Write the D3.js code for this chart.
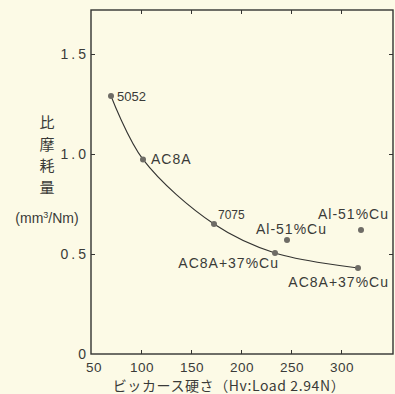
<!DOCTYPE html>
<html>
<head>
<meta charset="utf-8">
<script src="https://cdn.jsdelivr.net/npm/d3@7"></script>
<style>
  html, body { margin: 0; padding: 0; background: #fcfae6; }
  svg { display: block; }
  text { fill: #3a3a38; }
</style>
</head>
<body>
<div id="chart"></div>
<script>
// materials, hardness (Hv) and specific wear rate (mm3/Nm)
const materials = ['5052', 'AC8A', '7075', 'Al-51%Cu', 'AC8A+37%Cu', 'Al-51%Cu', 'AC8A+37%Cu'];
const hardness = [70, 102, 173, 246, 234, 320, 317];
const wearRate = [1.29, 0.973, 0.65, 0.57, 0.505, 0.62, 0.43];
// points the fitted curve runs through (indexes into the arrays above)
const curveIdx = [0, 1, 2, 4, 6];
const xTicks = [50, 100, 150, 200, 250, 300];
const yTicks = [0, 0.5, 1.0, 1.5];
const yTickLabels = ['0', '0.5', '1.0', '1.5'];
const yTitleChars = ['比', '摩', '耗', '量'];

const W = 395, H = 394;
const margin = { top: 10, right: 2, bottom: 40, left: 91 };

const svg = d3.select('#chart').append('svg')
  .attr('width', W)
  .attr('height', H);

svg.append('rect').attr('width', W).attr('height', H).attr('fill', '#fcfae6');

const x = d3.scaleLinear().domain([50, 352]).range([margin.left, W - margin.right]);
const y = d3.scaleLinear().domain([0, 1.72]).range([H - margin.bottom, margin.top]);

const ink = '#333331';
const font = '"Liberation Sans", "Noto Sans CJK JP", sans-serif';

// frame
svg.append('rect')
  .attr('x', x(50)).attr('y', y(1.72))
  .attr('width', x(352) - x(50)).attr('height', y(0) - y(1.72))
  .attr('fill', 'none').attr('stroke', ink).attr('stroke-width', 1.4);

// inward ticks on all four sides
const tickLen = 4;
svg.append('g')
  .attr('transform', `translate(0,${y(0)})`)
  .call(d3.axisBottom(x).tickValues(xTicks.slice(1)).tickSize(-tickLen).tickFormat(''))
  .call(g => g.select('.domain').remove())
  .selectAll('line').attr('stroke', ink);
svg.append('g')
  .attr('transform', `translate(0,${y(1.72)})`)
  .call(d3.axisTop(x).tickValues(xTicks.slice(1)).tickSize(-tickLen).tickFormat(''))
  .call(g => g.select('.domain').remove())
  .selectAll('line').attr('stroke', ink);
svg.append('g')
  .attr('transform', `translate(${x(50)},0)`)
  .call(d3.axisLeft(y).tickValues(yTicks.slice(1)).tickSize(-tickLen).tickFormat(''))
  .call(g => g.select('.domain').remove())
  .selectAll('line').attr('stroke', ink);
svg.append('g')
  .attr('transform', `translate(${x(352)},0)`)
  .call(d3.axisRight(y).tickValues(yTicks.slice(1)).tickSize(-tickLen).tickFormat(''))
  .call(g => g.select('.domain').remove())
  .selectAll('line').attr('stroke', ink);

// x tick labels
svg.append('g').selectAll('text')
  .data(xTicks)
  .enter().append('text')
  .attr('x', (d, i) => x(d) + (i === 0 ? 3 : 1))
  .attr('y', y(0) + 18)
  .attr('text-anchor', 'middle')
  .style('font-family', font)
  .style('font-size', '13.5px')
  .style('letter-spacing', '0.5px')
  .text(d => d);

// y tick labels
svg.append('g').selectAll('text')
  .data(yTicks)
  .enter().append('text')
  .attr('x', x(50) - 2)
  .attr('y', d => y(d) + 5)
  .attr('text-anchor', 'end')
  .style('font-family', font)
  .style('font-size', '14px')
  .style('letter-spacing', '3px')
  .text((d, i) => yTickLabels[i]);

// fitted curve
const line = d3.line()
  .x(i => x(hardness[i]))
  .y(i => y(wearRate[i]))
  .curve(d3.curveCatmullRom.alpha(0.5));

svg.append('path')
  .datum(curveIdx)
  .attr('d', line)
  .attr('fill', 'none')
  .attr('stroke', ink)
  .attr('stroke-width', 1.1);

// points
svg.append('g').selectAll('circle')
  .data(hardness)
  .enter().append('circle')
  .attr('cx', d => x(d))
  .attr('cy', (d, i) => y(wearRate[i]))
  .attr('r', 3)
  .attr('fill', '#6e6c66');

// point labels: offset, anchor, size per point
const labelPos = [
  { dx: 6, dy: 5, anchor: 'start', size: 13 },
  { dx: 8, dy: 5, anchor: 'start', size: 14 },
  { dx: 4, dy: -5, anchor: 'start', size: 12 },
  { dx: 40, dy: -6, anchor: 'end', size: 14 },
  { dx: 4, dy: 15, anchor: 'end', size: 14 },
  { dx: 28, dy: -11, anchor: 'end', size: 14 },
  { dx: 31, dy: 19, anchor: 'end', size: 14 }
];

svg.append('g').selectAll('text')
  .data(materials)
  .enter().append('text')
  .attr('x', (d, i) => x(hardness[i]) + labelPos[i].dx)
  .attr('y', (d, i) => y(wearRate[i]) + labelPos[i].dy)
  .attr('text-anchor', (d, i) => labelPos[i].anchor)
  .style('font-family', font)
  .style('font-size', (d, i) => labelPos[i].size + 'px')
  .style('letter-spacing', (d, i) => i === 0 || i === 2 ? '0px' : '1px')
  .text(d => d);

// y axis title
svg.append('g').selectAll('text')
  .data(yTitleChars)
  .enter().append('text')
  .attr('x', 47)
  .attr('y', (d, i) => 128 + i * 21.7)
  .attr('text-anchor', 'middle')
  .style('font-family', '"Noto Sans CJK JP", sans-serif')
  .style('font-size', '15px')
  .text(d => d);

const unit = svg.append('text')
  .attr('x', 47)
  .attr('y', 223)
  .attr('text-anchor', 'middle')
  .style('font-family', font)
  .style('font-size', '14px');
unit.append('tspan').text('(mm');
unit.append('tspan').attr('dy', -5).style('font-size', '9px').text('3');
unit.append('tspan').attr('dy', 5).text('/Nm)');

// x axis title
svg.append('text')
  .attr('x', 229)
  .attr('y', 391)
  .attr('text-anchor', 'middle')
  .style('font-family', '"Noto Sans CJK JP", sans-serif')
  .style('font-size', '14px')
  .style('letter-spacing', '0.6px')
  .text('ビッカース硬さ（Hv:Load 2.94N）');
</script>
</body>
</html>
